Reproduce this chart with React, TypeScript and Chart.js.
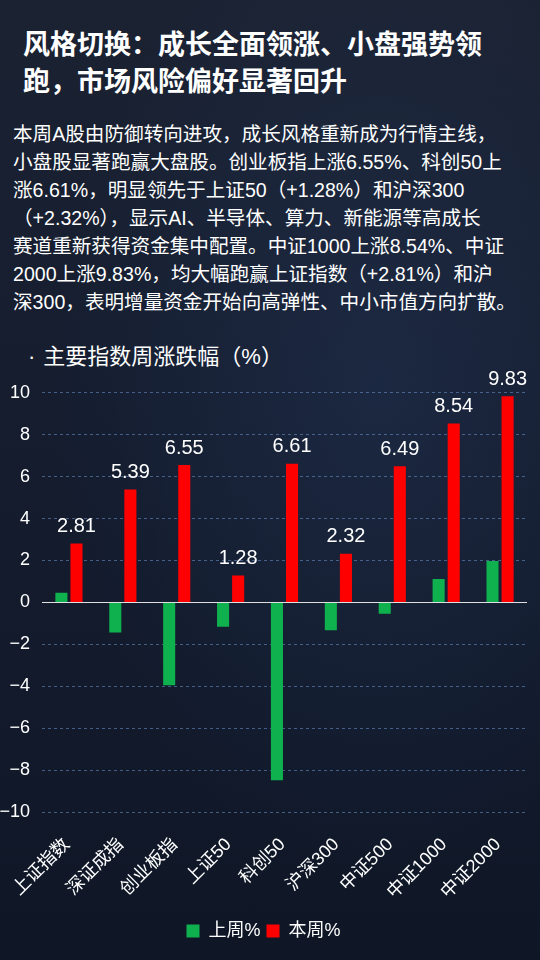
import React, { useEffect, useRef } from "react";
import { Chart, registerables } from "chart.js";

Chart.register(...registerables);

const categories = ["上证指数", "深证成指", "创业板指", "上证50", "科创50", "沪深300", "中证500", "中证1000", "中证2000"];
const lastWeek = [0.46, -1.44, -3.95, -1.16, -8.49, -1.33, -0.54, 1.12, 1.98];
const thisWeek = [2.81, 5.39, 6.55, 1.28, 6.61, 2.32, 6.49, 8.54, 9.83];
const seriesNames = ["上周%", "本周%"];
const yTicks = [10, 8, 6, 4, 2, 0, -2, -4, -6, -8, -10];

const titleLines = ["风格切换：成长全面领涨、小盘强势领", "跑，市场风险偏好显著回升"];
const paragraphLines = [
  "本周A股由防御转向进攻，成长风格重新成为行情主线，",
  "小盘股显著跑赢大盘股。创业板指上涨6.55%、科创50上",
  "涨6.61%，明显领先于上证50（+1.28%）和沪深300",
  "（+2.32%），显示AI、半导体、算力、新能源等高成长",
  "赛道重新获得资金集中配置。中证1000上涨8.54%、中证",
  "2000上涨9.83%，均大幅跑赢上证指数（+2.81%）和沪",
  "深300，表明增量资金开始向高弹性、中小市值方向扩散。",
];
const chartTitle = "主要指数周涨跌幅（%）";

const FONT = "'Liberation Sans', 'Noto Sans CJK SC', sans-serif";

export default function App() {
  const canvasRef = useRef<HTMLCanvasElement | null>(null);

  useEffect(() => {
    if (!canvasRef.current) return;
    const zeroLine = {
      id: "zeroLine",
      beforeDatasetsDraw(chart: any) {
        const { ctx, chartArea, scales } = chart;
        const y = scales.y.getPixelForValue(0);
        ctx.save();
        ctx.strokeStyle = "rgba(235,235,235,0.95)";
        ctx.lineWidth = 1;
        ctx.beginPath();
        ctx.moveTo(chartArea.left, Math.round(y) + 0.5);
        ctx.lineTo(chartArea.right, Math.round(y) + 0.5);
        ctx.stroke();
        ctx.restore();
      },
    };
    const valueLabels = {
      id: "valueLabels",
      afterDatasetsDraw(chart: any) {
        const { ctx } = chart;
        const meta = chart.getDatasetMeta(1);
        ctx.save();
        ctx.fillStyle = "#ffffff";
        ctx.font = `20px ${FONT}`;
        ctx.textAlign = "center";
        ctx.textBaseline = "bottom";
        meta.data.forEach((bar: any, i: number) => {
          ctx.fillText(thisWeek[i].toFixed(2), bar.x, bar.y - 7);
        });
        ctx.restore();
      },
    };
    const chart = new Chart(canvasRef.current, {
      type: "bar",
      data: {
        labels: categories,
        datasets: [
          { label: seriesNames[0], data: lastWeek, backgroundColor: "#0fb04e", categoryPercentage: 0.56, barPercentage: 0.8 },
          { label: seriesNames[1], data: thisWeek, backgroundColor: "#ff0000", categoryPercentage: 0.56, barPercentage: 0.8 },
        ],
      },
      options: {
        animation: false,
        responsive: false,
        maintainAspectRatio: false,
        layout: { padding: { top: 16, right: 13, left: 0, bottom: 10 } },
        plugins: {
          tooltip: { enabled: false },
          legend: {
            position: "bottom",
            labels: {
              color: "#ffffff",
              font: { size: 18, family: FONT },
              boxWidth: 13,
              boxHeight: 13,
              padding: 6,
            },
          },
        },
        scales: {
          x: {
            grid: { display: false },
            border: { display: false },
            ticks: {
              color: "#ffffff",
              font: { size: 18, family: FONT },
              minRotation: 45,
              maxRotation: 45,
              autoSkip: false,
              padding: 14,
              labelOffset: -2,
            },
            afterFit(scale: any) {
              scale.height = 104;
            },
          },
          y: {
            min: -10,
            max: 10,
            afterBuildTicks(scale: any) {
              scale.ticks = yTicks.map((v) => ({ value: v }));
            },
            grid: {
              color: (c: any) => (c.tick && c.tick.value === 0 ? "rgba(0,0,0,0)" : "rgba(110,150,210,0.55)"),
              drawTicks: false,
            },
            border: { display: false, dash: [3, 3] },
            ticks: {
              color: "#ffffff",
              font: { size: 18, family: FONT },
              padding: 12,
              callback: (v: any) => String(v).replace("-", "−"),
            },
            afterFit(scale: any) {
              scale.width = 42;
            },
          },
        },
      },
      plugins: [zeroLine, valueLabels],
    } as any);
    return () => chart.destroy();
  }, []);

  return (
    <div
      style={{
        position: "fixed",
        left: 0,
        top: 0,
        width: 540,
        height: 960,
        overflow: "hidden",
        background:
          "radial-gradient(ellipse at 70% 40%, rgba(40,62,100,0.35), rgba(0,0,0,0) 60%), linear-gradient(180deg, #1b2232 0%, #151d2f 40%, #0f1727 100%)",
        fontFamily: "'Noto Sans CJK SC', 'Liberation Sans', sans-serif",
        color: "#ffffff",
      }}
    >
      <div style={{ position: "absolute", left: 23, top: 24, fontSize: 27, fontWeight: 700, lineHeight: "37px", whiteSpace: "nowrap" }}>
        {titleLines.map((l, i) => (
          <div key={i}>{l}</div>
        ))}
      </div>
      <div style={{ position: "absolute", left: 13, top: 120, fontSize: 19.6, lineHeight: "28px", whiteSpace: "nowrap", fontFamily: FONT }}>
        {paragraphLines.map((l, i) => (
          <div key={i}>{l}</div>
        ))}
      </div>
      <div style={{ position: "absolute", left: 28, top: 342, fontSize: 22, lineHeight: "30px", fontFamily: FONT, whiteSpace: "nowrap" }}>
        <span style={{ marginRight: 8 }}>·</span>
        {chartTitle}
      </div>
      <canvas ref={canvasRef} width={540} height={590} style={{ position: "absolute", left: 0, top: 370, width: 540, height: 590 }} />
    </div>
  );
}
